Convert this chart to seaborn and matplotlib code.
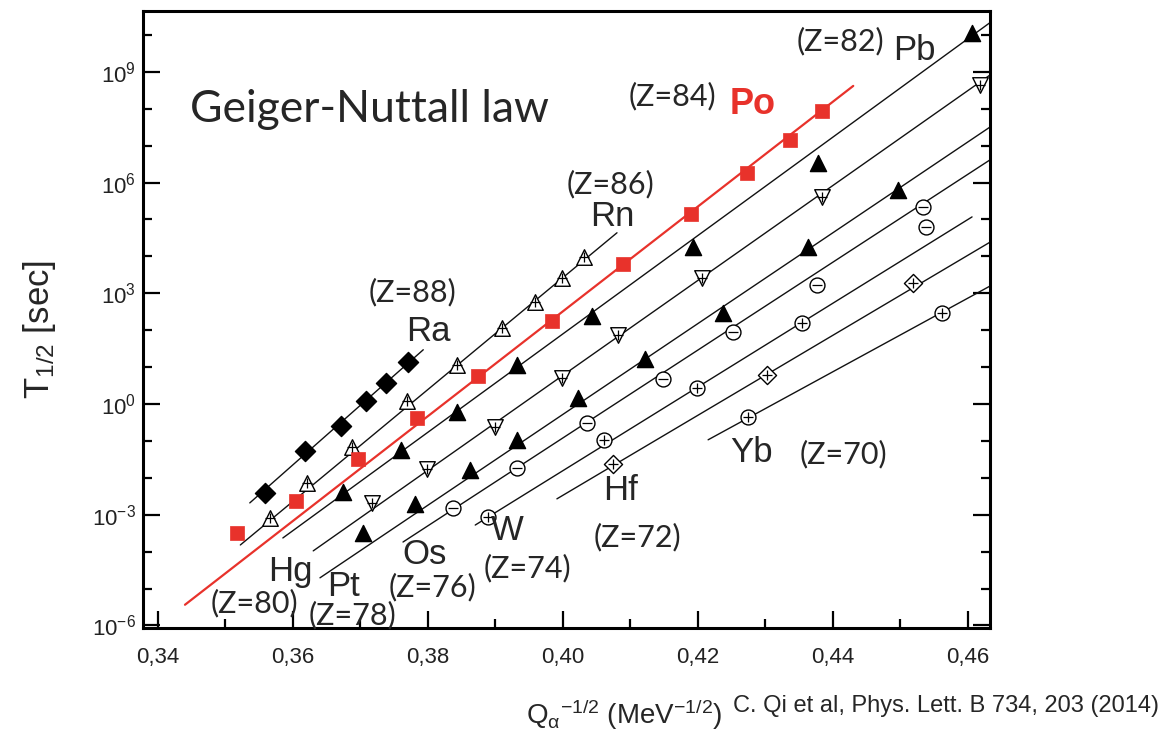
import numpy as np
import pandas as pd
import matplotlib
matplotlib.use("Agg")
import matplotlib.pyplot as plt
import seaborn as sns
from matplotlib import font_manager
from matplotlib.ticker import FixedLocator, FixedFormatter, NullFormatter

# ---------------- data ----------------
# x: Q_alpha^-1/2 (MeV^-1/2), y: log10(T1/2 / s)
ra_q = [0.3559, 0.3618, 0.3671, 0.3708, 0.3738, 0.3770]
ra_logt = [-2.41, -1.27, -0.59, 0.08, 0.57, 1.14]

rn_q = [0.3566, 0.3621, 0.3687, 0.3769, 0.3843, 0.3910, 0.3959, 0.3999, 0.4031]
rn_logt = [-3.09, -2.14, -1.16, 0.08, 1.06, 2.06, 2.77, 3.42, 3.99]

po_q = [0.3517, 0.3604, 0.3696, 0.3784, 0.3874, 0.3984, 0.4089, 0.4190, 0.4273, 0.4336, 0.4384]
po_logt = [-3.49, -2.63, -1.49, -0.38, 0.76, 2.25, 3.80, 5.15, 6.26, 7.16, 7.94]

pb_q = [0.3674, 0.3760, 0.3843, 0.3932, 0.4043, 0.4193, 0.4378, 0.4606]
pb_logt = [-2.38, -1.24, -0.21, 1.06, 2.39, 4.26, 6.53, 10.06]

hg_q = [0.3717, 0.3799, 0.3899, 0.3999, 0.4081, 0.4206, 0.4384, 0.4618]
hg_logt = [-2.68, -1.76, -0.62, 0.71, 1.87, 3.42, 5.61, 8.65]

pt_q = [0.3704, 0.3781, 0.3862, 0.3932, 0.4022, 0.4121, 0.4237, 0.4363, 0.4496]
pt_logt = [-3.49, -2.71, -1.79, -0.97, 0.17, 1.22, 2.47, 4.26, 5.80]

os_q = [0.3837, 0.3932, 0.4036, 0.4148, 0.4252, 0.4376, 0.4533, 0.4538]
os_logt = [-2.82, -1.73, -0.51, 0.68, 1.95, 3.23, 5.34, 4.80]

w_q = [0.3889, 0.4061, 0.4199, 0.4354]
w_logt = [-3.06, -0.97, 0.44, 2.20]

hf_q = [0.4074, 0.4302, 0.4519]
hf_logt = [-1.62, 0.79, 3.28]

yb_q = [0.4274, 0.4562]
yb_logt = [-0.35, 2.47]

# Geiger-Nuttall fit lines (start / end)
elements = ["Ra", "Rn", "Po", "Pb", "Hg", "Pt", "Os", "W", "Hf", "Yb"]
z_numbers = [88, 86, 84, 82, 80, 78, 76, 74, 72, 70]
fit_q_start = [0.3536, 0.3522, 0.3440, 0.3585, 0.3630, 0.3640, 0.3763, 0.3870, 0.3991, 0.4215]
fit_q_end = [0.3793, 0.4080, 0.4430, 0.4633, 0.4633, 0.4633, 0.4633, 0.4606, 0.4633, 0.4633]
fit_logt_start = [-2.68, -3.82, -5.44, -3.63, -3.98, -4.71, -3.74, -3.28, -2.57, -0.97]
fit_logt_end = [1.47, 4.64, 8.62, 10.34, 8.92, 7.51, 6.62, 5.07, 4.39, 3.20]

x_ticks = [0.34, 0.36, 0.38, 0.40, 0.42, 0.44, 0.46]
x_tick_labels = ["0,34", "0,36", "0,38", "0,40", "0,42", "0,44", "0,46"]
x_minor = [0.35, 0.37, 0.39, 0.41, 0.43, 0.45]
y_major_exp = [-6, -3, 0, 3, 6, 9]
y_minor_exp = [-5, -4, -2, -1, 1, 2, 4, 5, 7, 8, 10]

# ---------------- fonts ----------------
avail = {f.name for f in font_manager.fontManager.ttflist}
def pick(*names):
    for n in names:
        if n in avail:
            return n
    return "DejaVu Sans"
NARROW = pick("Liberation Sans Narrow", "Liberation Sans")
ARIAL = pick("Liberation Sans", "DejaVu Sans")
CAL = pick("Lato", "Open Sans", "DejaVu Sans")

sns.set_theme(style="ticks")
plt.rcParams["font.family"] = [ARIAL, "DejaVu Sans"]
plt.rcParams["mathtext.default"] = "regular"

RED = "#e8322b"
W_, H_ = 1166, 739

fig = plt.figure(figsize=(W_ / 100, H_ / 100), dpi=100)
fig.patch.set_facecolor("white")
ax = fig.add_axes([143 / W_, 1 - 628 / H_, 847 / W_, 617 / H_])
ax.set_facecolor("white")

# ---------------- fit lines ----------------
rows = []
for el, q0, q1, l0, l1 in zip(elements, fit_q_start, fit_q_end, fit_logt_start, fit_logt_end):
    rows.append({"element": el, "Q": q0, "T": 10 ** l0})
    rows.append({"element": el, "Q": q1, "T": 10 ** l1})
lines_df = pd.DataFrame(rows)
black_df = lines_df[lines_df["element"] != "Po"]
red_df = lines_df[lines_df["element"] == "Po"]
sns.lineplot(data=black_df, x="Q", y="T", hue="element",
             palette={e: "#111111" for e in elements if e != "Po"},
             estimator=None, sort=False, legend=False, linewidth=1.0, ax=ax, zorder=2)
sns.lineplot(data=red_df, x="Q", y="T", color=RED, estimator=None, sort=False,
             legend=False, linewidth=1.6, ax=ax, zorder=2)

# ---------------- markers ----------------
def pts(q, lt):
    return np.array(q), 10 ** np.array(lt)

def scat(q, lt, marker, s, face, edge="black", lw=1.0, z=4):
    x, y = pts(q, lt)
    sns.scatterplot(x=x, y=y, marker=marker, s=s, facecolor=face, edgecolor=edge,
                    linewidth=lw, ax=ax, zorder=z, legend=False)

def cross(q, lt, marker="+", s=45, lw=0.9):
    x, y = pts(q, lt)
    sns.scatterplot(x=x, y=y, marker=marker, s=s, color="black",
                    linewidth=lw, ax=ax, zorder=5, legend=False)

scat(ra_q, ra_logt, "D", 105, "black")
scat(rn_q, rn_logt, "^", 125, "white")
cross(rn_q, rn_logt)
scat(po_q, po_logt, "s", 95, RED, edge=RED, lw=0.5)
scat(pb_q, pb_logt, "^", 135, "black")
scat(hg_q, hg_logt, "v", 125, "white")
cross(hg_q, hg_logt)
scat(pt_q, pt_logt, "^", 135, "black")
scat(os_q, os_logt, "o", 115, "white")
cross(os_q, os_logt, marker="_", s=50)
scat(w_q, w_logt, "o", 115, "white")
cross(w_q, w_logt)
scat(hf_q, hf_logt, "D", 85, "white")
cross(hf_q, hf_logt)
scat(yb_q, yb_logt, "o", 115, "white")
cross(yb_q, yb_logt, s=60)

# ---------------- axes ----------------
ax.set_yscale("log")
ax.set_xlim(0.33778, 0.46326)
ax.set_ylim(10 ** -6.07, 10 ** 10.65)
ax.xaxis.set_major_locator(FixedLocator(x_ticks))
ax.xaxis.set_major_formatter(FixedFormatter(x_tick_labels))
ax.xaxis.set_minor_locator(FixedLocator(x_minor))
ax.xaxis.set_minor_formatter(NullFormatter())
ax.yaxis.set_major_locator(FixedLocator([10.0 ** e for e in y_major_exp]))
ax.yaxis.set_major_formatter(FixedFormatter([rf"$10^{{{e}}}$" for e in y_major_exp]))
ax.yaxis.set_minor_locator(FixedLocator([10.0 ** e for e in y_minor_exp]))
ax.yaxis.set_minor_formatter(NullFormatter())
ax.set_xlabel("")
ax.set_ylabel("")

for sp in ax.spines.values():
    sp.set_visible(True)
    sp.set_linewidth(2.2)
    sp.set_color("black")

ax.tick_params(which="both", direction="in", top=False, right=True, left=True, bottom=True,
               labelright=False, color="black", width=1.6)
ax.tick_params(which="major", length=12.5)
ax.tick_params(which="minor", length=6.5)
ax.tick_params(axis="x", which="major", pad=14)
ax.tick_params(axis="y", which="major", pad=5)
for lab in ax.get_xticklabels() + ax.get_yticklabels():
    lab.set_fontfamily([NARROW, "DejaVu Sans"])
    lab.set_fontsize(16)
    lab.set_color("#222222")

# ---------------- texts ----------------
def fp(x, y):
    return x / W_, 1 - y / H_

def t(x, y, s, font, size, **kw):
    fig.text(*fp(x, y), s, family=[font, "DejaVu Sans"], fontsize=size,
             ha=kw.pop("ha", "center"), va=kw.pop("va", "center"), **kw)

t(370, 110, "Geiger-Nuttall law", CAL, 32)

zsize = 22
esize = 25
t(413, 292, "(Z=88)", CAL, zsize)
t(428, 331, "Ra", ARIAL, esize)
t(610, 184, "(Z=86)", CAL, zsize)
t(612, 217, "Rn", ARIAL, esize)
t(672, 96, "(Z=84)", CAL, zsize)
t(753, 104, "Po", ARIAL, 26, color=RED, fontweight="bold")
t(840, 41, "(Z=82)", CAL, zsize)
t(914, 50, "Pb", ARIAL, esize)
t(290, 572, "Hg", ARIAL, esize)
t(254, 603, "(Z=80)", CAL, zsize)
t(343, 587, "Pt", ARIAL, esize)
t(352, 615, "(Z=78)", CAL, zsize)
t(425, 555, "Os", ARIAL, esize)
t(432, 587, "(Z=76)", CAL, zsize)
t(507, 530, "W", ARIAL, esize)
t(527, 568, "(Z=74)", CAL, zsize)
t(621, 490, "Hf", ARIAL, esize)
t(637, 537, "(Z=72)", CAL, zsize)
t(752, 452, "Yb", ARIAL, esize)
t(843, 454, "(Z=70)", CAL, zsize)

t(624, 715, r"$Q_{\alpha}{}^{-1/2}$ (MeV$^{-1/2}$)", NARROW, 20)
t(40, 330, r"T$_{1/2}$ [sec]", ARIAL, 25, rotation=90)
t(733, 706, "C. Qi et al, Phys. Lett. B 734, 203 (2014)", NARROW, 17, ha="left")

fig.savefig("out.png", dpi=100, facecolor="white")
